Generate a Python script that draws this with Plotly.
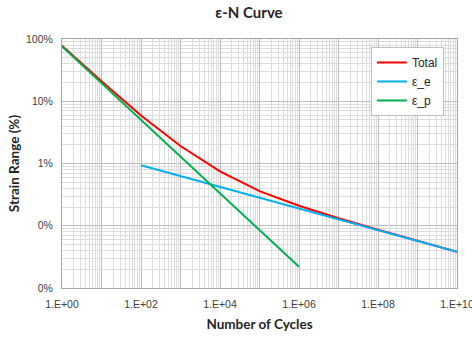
import plotly.graph_objects as go

# Number of cycles
n_total = [1e0, 1e1, 1e2, 1e3, 1e4, 1e5, 1e6, 1e7, 1e8, 1e9, 1e10]
n_elastic = [1e2, 1e3, 1e4, 1e5, 1e6, 1e7, 1e8, 1e9, 1e10]
n_plastic = [1e0, 1e1, 1e2, 1e3, 1e4, 1e5, 1e6]

# Strain range (fraction)
total = [0.78, 0.209, 0.059, 0.0191, 0.0075, 0.0036, 0.0021, 0.00132, 0.00086, 0.00057, 0.00038]
eps_e = [0.0094, 0.0063, 0.0042, 0.0028, 0.00188, 0.00126, 0.00085, 0.00057, 0.00038]
eps_p = [0.76, 0.195, 0.050, 0.0128, 0.0033, 0.00084, 0.00022]

x_tickvals = [1e0, 1e1, 1e2, 1e3, 1e4, 1e5, 1e6, 1e7, 1e8, 1e9, 1e10]
x_ticktext = ["1.E+00", "", "1.E+02", "", "1.E+04", "", "1.E+06", "", "1.E+08", "", "1.E+10"]
y_tickvals = [1e-4, 1e-3, 1e-2, 1e-1, 1]
y_ticktext = ["0%", "0%", "1%", "10%", "100%"]

fig = go.Figure()
fig.add_trace(go.Scatter(x=n_total, y=total, mode="lines", name="Total",
                         line=dict(color="#FF0000", width=2)))
fig.add_trace(go.Scatter(x=n_elastic, y=eps_e, mode="lines", name="ε_e",
                         line=dict(color="#00B0F0", width=2)))
fig.add_trace(go.Scatter(x=n_plastic, y=eps_p, mode="lines", name="ε_p",
                         line=dict(color="#00B050", width=2)))

tick_font = dict(family="Liberation Sans, Arial", size=10.5, color="#404040")
title_font = dict(family="Lato, Open Sans", size=13.5, color="#262626")

fig.update_layout(
    width=472, height=337,
    margin=dict(l=62, r=15, t=39, b=49),
    paper_bgcolor="white", plot_bgcolor="white",
    title=dict(text="<b>ε-N Curve</b>", x=0.5275, xanchor="center", y=0.962, yanchor="middle",
               font=dict(family="Lato, Open Sans", size=15, color="#262626")),
    legend=dict(x=0.782, y=0.968, xanchor="left", yanchor="top",
                bordercolor="#BFBFBF", borderwidth=1, bgcolor="white",
                font=dict(family="Liberation Sans, Arial", size=12, color="#262626"),
                tracegroupgap=0, itemwidth=30),
    showlegend=True,
)

fig.update_xaxes(
    type="log", range=[0, 10], automargin=False,
    tickvals=x_tickvals, ticktext=x_ticktext, tickfont=tick_font,
    ticklabeloverflow="allow",
    showgrid=True, gridcolor="#BFBFBF", gridwidth=1,
    minor=dict(dtick="D1", showgrid=True, gridcolor="#DDDDDD", gridwidth=1, ticks=""),
    showline=True, linecolor="#A6A6A6", linewidth=1, mirror=True,
    ticks="outside", ticklen=6, tickcolor="rgba(0,0,0,0)", zeroline=False,
    title=dict(text="<b>Number of Cycles</b>", font=title_font, standoff=10),
)
fig.update_yaxes(
    type="log", range=[-4, 0], automargin=False,
    tickvals=y_tickvals, ticktext=y_ticktext, tickfont=tick_font,
    showgrid=True, gridcolor="#BFBFBF", gridwidth=1,
    minor=dict(dtick="D1", showgrid=True, gridcolor="#DDDDDD", gridwidth=1, ticks=""),
    showline=True, linecolor="#A6A6A6", linewidth=1, mirror=True,
    ticks="outside", ticklen=6, tickcolor="rgba(0,0,0,0)", zeroline=False,
    title=dict(text="<b>Strain Range (%)</b>", font=title_font, standoff=3),
)

fig.write_html("out.html")
